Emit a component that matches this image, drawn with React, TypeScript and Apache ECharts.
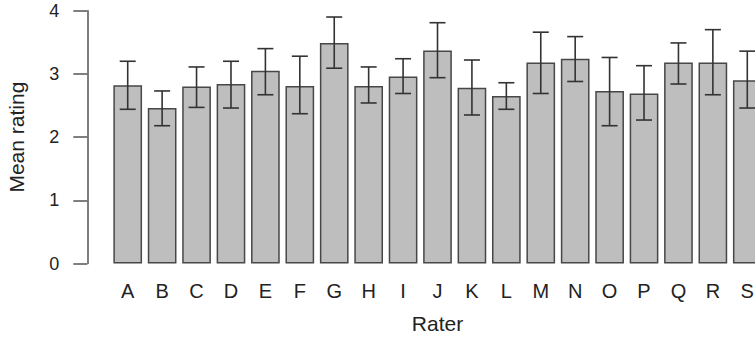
import React, { useEffect, useRef } from "react";
import * as echarts from "echarts";

const raters = ["A", "B", "C", "D", "E", "F", "G", "H", "I", "J", "K", "L", "M", "N", "O", "P", "Q", "R", "S"];
const meanRating = [2.82, 2.46, 2.8, 2.84, 3.05, 2.81, 3.49, 2.81, 2.96, 3.37, 2.78, 2.65, 3.18, 3.24, 2.73, 2.69, 3.18, 3.18, 2.9];
const errLow = [2.44, 2.18, 2.47, 2.46, 2.67, 2.37, 3.09, 2.54, 2.69, 2.94, 2.35, 2.44, 2.69, 2.88, 2.18, 2.27, 2.84, 2.67, 2.46];
const errHigh = [3.2, 2.73, 3.11, 3.2, 3.4, 3.28, 3.9, 3.11, 3.24, 3.81, 3.22, 2.86, 3.66, 3.59, 3.26, 3.13, 3.49, 3.7, 3.36];
const yTicks = [0, 1, 2, 3, 4];

const FONT = "'Liberation Sans', Arial, Helvetica, sans-serif";

export default function App() {
  const ref = useRef<HTMLDivElement>(null);
  useEffect(() => {
    if (!ref.current) return;
    const chart = echarts.init(ref.current, undefined, { renderer: "svg" });
    const errData = raters.map((_, i) => [i, errLow[i], errHigh[i]]);
    chart.setOption({
      animation: false,
      backgroundColor: "#ffffff",
      grid: {
        left: 110.5,
        width: 654,
        top: 10.7,
        height: 252.8,
        containLabel: false,
        outerBoundsMode: "none",
      },
      xAxis: {
        type: "category",
        data: raters,
        name: "Rater",
        nameLocation: "middle",
        nameGap: 49,
        nameTextStyle: { fontSize: 21, color: "#222", fontFamily: FONT },
        axisLine: { show: false },
        axisTick: { show: false },
        axisLabel: { fontSize: 20, color: "#222", fontFamily: FONT, margin: 17, interval: 0 },
      },
      yAxis: {
        type: "value",
        min: yTicks[0],
        max: yTicks[yTicks.length - 1],
        interval: 1,
        offset: 23.2,
        name: "Mean rating",
        nameLocation: "middle",
        nameGap: 60,
        nameTextStyle: { fontSize: 21, color: "#222", fontFamily: FONT },
        splitLine: { show: false },
        axisLine: { show: true, lineStyle: { color: "#555", width: 1.5 } },
        axisTick: { show: true, length: 14, lineStyle: { color: "#555", width: 1.5 } },
        axisLabel: { fontSize: 18, color: "#222", fontFamily: FONT, margin: 28 },
      },
      series: [
        {
          type: "bar",
          data: meanRating,
          barWidth: 28.7,
          itemStyle: { color: "#bebebe", borderColor: "#474747", borderWidth: 1.5 },
        },
        {
          type: "custom",
          data: errData,
          z: 10,
          renderItem: (params: any, api: any) => {
            const x = api.value(0);
            const lo = api.coord([x, api.value(1)]);
            const hi = api.coord([x, api.value(2)]);
            const half = 8;
            const style = { stroke: "#333", lineWidth: 1.6 };
            return {
              type: "group",
              children: [
                { type: "line", shape: { x1: lo[0], y1: lo[1], x2: hi[0], y2: hi[1] }, style },
                { type: "line", shape: { x1: hi[0] - half, y1: hi[1], x2: hi[0] + half, y2: hi[1] }, style },
                { type: "line", shape: { x1: lo[0] - half, y1: lo[1], x2: lo[0] + half, y2: lo[1] }, style },
              ],
            };
          },
        },
      ],
    });
    return () => chart.dispose();
  }, []);
  return (
    <div
      ref={ref}
      style={{ position: "fixed", left: 0, top: 0, width: 755, height: 338, overflow: "hidden" }}
    />
  );
}
